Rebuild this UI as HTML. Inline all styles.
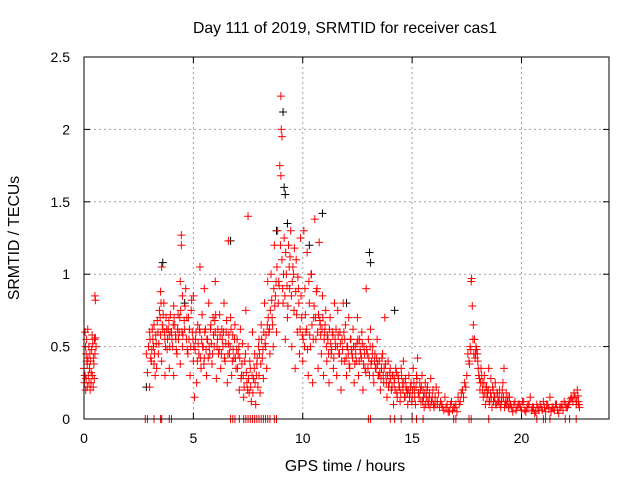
<!DOCTYPE html>
<html><head><meta charset="utf-8"><style>
body{margin:0;background:#fff}
svg{display:block;font-family:"Liberation Sans",sans-serif}
</style></head><body>
<svg id="chart" width="640" height="480" viewBox="0 0 640 480">
<text x="345" y="33" font-size="15.8" text-anchor="middle" fill="#000">Day 111 of 2019, SRMTID for receiver cas1</text>
<text transform="translate(19,238) rotate(-90)" font-size="15.8" text-anchor="middle">SRMTID / TECUs</text>
<text x="345" y="471" font-size="15.8" text-anchor="middle">GPS time / hours</text>
<g id="grid"></g>
<g id="ticks"></g>
<g id="marks"></g>
<rect x="84" y="57" width="525" height="362" fill="none" stroke="#000" stroke-width="1"/>
</svg>
<script>
const xTicks=[0,5,10,15,20];
const yTicks=[0,0.5,1,1.5,2,2.5];
const yTickLabels=["0","0.5","1","1.5","2","2.5"];
const redX=[0,0.02,0.05,0.05,0.08,0.1,0.1,0.12,0.15,0.15,0.18,0.2,0.22,0.25,0.28,0.3,0.32,0.35,0.38,0.4,0.42,0.45,0.48,0.5,0.52,0.55,0.5,0.52,
2.85,2.9,2.95,3.0,3.0,3.05,3.1,3.15,3.2,3.2,3.25,3.3,3.35,3.4,3.45,3.5,3.5,3.55,3.55,3.6,3.65,3.7,3.7,3.75,3.8,3.85,3.9,3.9,3.95,4.0,4.05,4.1,4.1,4.15,4.2,4.25,4.3,4.35,4.4,4.4,4.45,4.45,4.5,4.5,
4.6,4.65,4.7,4.75,4.8,4.85,4.9,4.95,5.0,5.0,5.05,5.1,5.15,5.2,5.25,5.3,5.3,5.35,5.4,5.45,5.5,5.5,5.55,5.6,5.65,5.7,5.75,5.8,5.85,5.9,5.95,6.0,6.0,6.05,6.1,6.15,6.2,6.25,6.3,6.35,6.4,6.45,6.5,6.55,6.6,6.6,6.65,6.7,6.75,6.8,6.85,6.9,6.95,7.0,
7.05,7.1,7.15,7.2,7.25,7.3,7.35,7.4,7.45,7.5,7.5,7.55,7.6,7.65,7.7,7.75,7.8,7.85,7.9,7.95,8.0,8.0,8.05,8.1,8.15,8.2,8.25,8.3,8.35,8.4,8.45,8.5,
8.55,8.6,8.65,8.7,8.75,8.8,8.85,8.9,8.95,9.0,9.0,9.02,9.05,9.05,9.1,9.15,9.2,9.25,9.3,9.35,9.4,9.45,9.5,9.55,9.6,9.65,9.7,9.75,9.8,9.85,9.9,9.95,10.0,
10.05,10.1,10.15,10.2,10.25,10.3,10.35,10.4,10.45,10.5,10.55,10.6,10.65,10.7,10.75,10.8,10.85,10.9,10.95,11.0,11.05,11.1,11.15,11.2,11.25,11.3,11.35,11.4,11.45,
11.5,11.55,11.6,11.65,11.7,11.75,11.8,11.85,11.9,11.95,12.0,12.05,12.1,12.15,12.2,12.25,12.3,12.35,12.4,12.45,12.5,12.55,12.6,12.65,12.7,12.75,12.8,12.85,12.9,12.95,13.0,13.05,13.1,13.15,13.2,13.25,13.3,13.35,13.4,13.45,
13.5,13.55,13.6,13.65,13.7,13.75,13.8,13.85,13.9,13.95,14.0,14.05,14.1,14.15,14.2,14.25,14.3,14.35,14.4,14.45,14.5,14.55,14.6,14.65,14.7,14.75,14.8,14.85,14.9,14.95,
15.0,15.05,15.1,15.15,15.2,15.25,15.3,15.35,15.4,15.45,15.5,15.55,15.6,15.65,15.7,15.75,15.8,15.85,15.9,15.95,16.0,16.05,16.1,16.15,16.2,16.3,16.4,16.5,16.6,16.7,16.8,16.9,17.0,17.1,17.2,17.3,17.4,17.5,
17.55,17.6,17.65,17.7,17.72,17.75,17.8,17.85,17.9,17.95,18.0,18.05,18.1,18.15,
18.2,18.25,18.3,18.35,18.4,18.45,18.5,18.55,18.6,18.65,18.7,18.75,18.8,18.85,18.9,18.95,19.0,19.05,19.1,19.15,19.2,19.25,19.3,19.35,19.4,19.45,
19.5,19.6,19.7,19.8,19.9,20.0,20.1,20.2,20.3,20.4,20.5,20.6,20.7,20.8,20.9,21.0,21.1,21.2,21.3,21.4,21.5,21.6,21.7,21.8,21.9,22.0,22.1,22.2,22.3,22.4,22.5,22.55,22.6,22.65];
const redY=[.35,.25,.6,.3,.2,.45,.28,.55,.38,.22,.42,.3,.5,.35,.2,.4,.25,.48,.3,.52,.22,.38,.55,.45,.56,.5,.85,.82,
.45,.32,.5,.22,.6,.42,.48,.55,.38,.65,.3,.52,.68,.45,.75,.88,.58,1.05,.4,.62,.8,.3,.55,.7,.48,.62,.35,.58,.72,.6,.5,.3,.78,.65,.55,.45,.72,.6,.38,.95,1.27,1.2,.85,.5,
.62,.9,.7,.45,.55,.3,.75,.6,.4,.85,.15,.55,.25,.65,.45,1.05,.6,.35,.72,.5,.9,.42,.62,.3,.55,.8,.45,.65,.38,.7,.5,.95,.6,.28,.55,.45,.72,.35,.62,.5,.8,.4,.6,.25,1.23,.52,.45,.7,.3,.58,.42,.65,.35,.55,
.45,.2,.62,.3,.52,.15,.4,.75,.25,1.4,.5,.18,.35,.12,.6,.28,.45,.1,.38,.22,.55,.3,.18,.65,.42,.28,.8,.5,.35,.95,.6,.45,
1.0,.7,.5,1.2,.85,.6,1.3,.95,1.75,2.23,1.68,2.0,1.95,1.1,.8,1.25,.55,1.0,.7,1.2,.9,1.3,.5,1.05,.75,.35,1.1,.6,.9,.45,1.25,.7,.4,
1.3,.9,.6,1.15,.3,.8,.5,1.0,.25,.7,1.38,.55,.9,.35,1.22,.65,.45,.85,.3,.6,.75,.4,.55,.25,.7,.45,.6,.35,.8,
.5,.3,.75,.45,.6,.2,.55,.8,.4,.65,.3,.5,.7,.35,.55,.45,.62,.25,.5,.4,.7,.3,.55,.45,.6,.2,.5,.35,.9,.45,.55,.3,.62,.4,.5,.25,.45,.35,.55,.3,
.4,.2,.35,.45,.25,.7,.3,.15,.4,.25,.35,.2,.3,.1,.28,.35,.18,.3,.22,.12,.35,.25,.4,.15,.28,.2,.1,.3,.18,.25,
.15,.35,.2,.1,.3,.42,.18,.25,.12,.3,.2,.08,.25,.15,.22,.1,.18,.28,.12,.2,.08,.15,.22,.1,.18,.12,.08,.15,.1,.05,.12,.08,.1,.15,.12,.2,.25,.3,
.45,.4,.5,.95,.97,.78,.65,.55,.45,.48,.4,.3,.2,.35,
.25,.15,.3,.1,.22,.18,.35,.12,.28,.08,.2,.15,.25,.1,.18,.12,.2,.08,.15,.25,.35,.1,.18,.12,.08,.15,
.1,.05,.12,.08,.1,.06,.12,.05,.1,.15,.08,.04,.1,.06,.08,.12,.05,.1,.15,.08,.06,.1,.04,.08,.06,.1,.08,.12,.15,.18,.1,.2,.12,.08];
const redX2=[0.03,0.07,0.13,0.17,0.23,0.27,0.33,0.37,0.43,0.47,
3.02,3.08,3.12,3.18,3.22,3.28,3.32,3.38,3.42,3.48,3.52,3.58,3.62,3.68,3.72,3.78,3.82,3.88,3.92,3.98,4.02,4.08,4.12,4.18,4.22,4.28,4.32,4.38,4.42,4.48,
4.52,4.58,4.62,4.68,4.72,4.78,4.82,4.88,4.92,4.98,5.02,5.08,5.12,5.18,5.22,5.28,5.32,5.38,5.42,5.48,5.52,5.58,5.62,5.68,5.72,5.78,5.82,5.88,5.92,5.98,6.02,6.08,6.12,6.18,6.22,6.28,6.32,6.38,6.42,6.48,6.52,6.58,6.62,6.68,6.72,6.78,6.82,6.88,6.92,6.98,
7.02,7.08,7.12,7.18,7.22,7.28,7.32,7.38,7.42,7.48,7.52,7.58,7.62,7.68,7.72,7.78,7.82,7.88,7.92,7.98,8.02,8.08,8.12,8.18,8.22,8.28,8.32,8.38,8.42,8.48,
8.52,8.58,8.62,8.68,8.72,8.78,8.82,8.88,8.92,8.98,9.08,9.12,9.18,9.22,9.28,9.32,9.38,9.42,9.48,9.52,9.58,9.62,9.68,9.72,9.78,9.82,9.88,9.92,9.98,
10.02,10.08,10.12,10.18,10.22,10.28,10.32,10.38,10.42,10.48,10.52,10.58,10.62,10.68,10.72,10.78,10.82,10.88,10.92,10.98,11.02,11.08,11.12,11.18,11.22,11.28,11.32,11.38,11.42,11.48,
11.52,11.58,11.62,11.68,11.72,11.78,11.82,11.88,11.92,11.98,12.02,12.08,12.12,12.18,12.22,12.28,12.32,12.38,12.42,12.48,12.52,12.58,12.62,12.68,12.72,12.78,12.82,12.88,12.92,12.98,13.02,13.08,13.12,13.18,13.22,13.28,13.32,13.38,13.42,13.48,
13.52,13.58,13.62,13.68,13.72,13.78,13.82,13.88,13.92,13.98,14.02,14.08,14.12,14.18,14.22,14.28,14.32,14.38,14.42,14.48,14.52,14.58,14.62,14.68,14.72,14.78,14.82,14.88,14.92,14.98,
15.02,15.08,15.12,15.18,15.22,15.28,15.32,15.38,15.42,15.48,15.52,15.58,15.62,15.68,15.72,15.78,15.82,15.88,15.92,15.98,16.05,16.15,16.25,16.35,16.45,16.55,16.65,16.75,16.85,16.95,17.05,17.15,17.25,17.35,17.45,
17.62,17.68,17.78,17.82,17.88,17.92,17.98,18.02,18.08,18.12,18.18,18.22,18.28,18.32,18.38,18.42,18.48,18.52,18.58,18.62,18.68,18.72,18.78,18.82,18.88,18.92,18.98,19.02,19.08,19.12,19.18,19.22,19.28,19.32,19.38,19.42,19.48,
19.55,19.65,19.75,19.85,19.95,20.05,20.15,20.25,20.35,20.45,20.55,20.65,20.75,20.85,20.95,21.05,21.15,21.25,21.35,21.45,21.55,21.65,21.75,21.85,21.95,22.05,22.15,22.25,22.35,22.45,22.52,22.58,22.62];
const redY2=[.3,.5,.4,.62,.25,.45,.32,.58,.42,.28,
.55,.4,.62,.5,.45,.58,.35,.6,.52,.7,.8,.65,.72,.6,.5,.62,.55,.68,.5,.6,.55,.65,.7,.58,.48,.62,.55,.7,.75,.6,
.58,.68,.78,.55,.48,.7,.62,.5,.82,.55,.5,.48,.6,.4,.52,.62,.42,.55,.5,.38,.6,.48,.55,.42,.5,.62,.52,.45,.58,.68,.72,.5,.62,.48,.58,.45,.55,.6,.42,.52,.68,.45,.58,.5,.62,.4,.48,.55,.42,.48,
.35,.5,.42,.28,.38,.3,.22,.45,.32,.2,.28,.4,.22,.3,.18,.35,.25,.3,.42,.5,.45,.38,.55,.48,.6,.52,.58,.65,.7,.62,
.75,.82,.65,.9,.78,.95,1.05,.8,.92,1.2,.9,1.0,.85,1.15,.92,.78,1.05,1.12,.85,.95,1.0,1.18,.88,.72,.98,.8,.62,.85,.58,
.55,.5,.72,.62,.48,.95,.58,1.0,.65,.55,.78,.7,.88,.6,.72,.68,.58,.62,.7,.55,.65,.5,.58,.45,.62,.52,.48,.58,.42,.55,
.62,.5,.58,.45,.52,.4,.48,.6,.55,.42,.5,.45,.38,.55,.48,.42,.5,.38,.45,.52,.55,.4,.48,.42,.52,.38,.45,.32,.48,.35,.42,.5,.38,.45,.3,.4,.35,.42,.38,.3,
.32,.28,.42,.3,.35,.38,.25,.3,.22,.32,.28,.22,.3,.25,.2,.32,.15,.28,.22,.18,.3,.2,.25,.15,.22,.18,.2,.15,.22,.12,
.2,.25,.15,.22,.28,.18,.15,.2,.22,.12,.15,.18,.1,.2,.12,.15,.08,.12,.15,.1,.1,.12,.08,.1,.06,.08,.05,.1,.06,.08,.05,.1,.18,.15,.22,
.38,.48,.55,.45,.42,.5,.45,.35,.28,.25,.3,.2,.25,.18,.22,.15,.2,.12,.18,.15,.22,.12,.15,.1,.18,.12,.15,.1,.12,.2,.15,.08,.12,.1,.15,.08,.1,
.08,.1,.06,.1,.08,.12,.06,.08,.1,.06,.08,.05,.08,.1,.06,.08,.1,.07,.05,.08,.1,.06,.08,.1,.12,.08,.1,.14,.12,.15,.12,.16,.1];
const zeroX=[2.8,2.9,3.2,3.5,3.55,3.9,4.0,6.7,6.8,6.9,7.1,7.3,7.4,7.5,7.6,7.7,7.8,7.9,8.0,8.1,8.2,8.3,8.4,8.5,8.7,8.8,13.0,13.1,14.0,14.2,14.5,15.0,15.2,15.5,16.9,17.0,17.6,17.7,18.5,20.7,21.0,21.1,21.3,22.0,22.2,22.5];
const blackX=[9.1,9.15,9.2,10.9,13.05,13.1,14.2,3.6,6.7,12.0,8.8,4.6,2.85,9.3,10.3];
const blackY=[2.12,1.6,1.55,1.42,1.15,1.08,.75,1.08,1.23,.8,1.3,.8,.22,1.35,1.2];

const X0=84,X1=609,Y0=419,Y1=57;
const xs=h=>X0+(h/24)*(X1-X0);
const ys=v=>Y0-(v/2.5)*(Y0-Y1);
const NS="http://www.w3.org/2000/svg";
const grid=document.getElementById('grid'),ticks=document.getElementById('ticks'),marks=document.getElementById('marks');
function mk(tag,attrs,parent){const e=document.createElementNS(NS,tag);for(const k in attrs)e.setAttribute(k,attrs[k]);parent.appendChild(e);return e;}
xTicks.forEach(t=>{
  const x=xs(t);
  if(t>0){const g=mk('line',{x1:x,x2:x,y1:Y0,y2:Y1,stroke:'#a0a0a0','stroke-dasharray':'2,3'},grid);
  
  }
  mk('line',{x1:x,x2:x,y1:Y0,y2:Y0-6,stroke:'#000'},ticks);
  mk('line',{x1:x,x2:x,y1:Y1,y2:Y1+6,stroke:'#000'},ticks);
  const l=mk('text',{x:x,y:Y0+24,'font-size':14,'text-anchor':'middle',fill:'#000'},ticks);
  l.textContent=t;
  
  
});
yTicks.forEach((t,i)=>{
  const y=ys(t);
  if(t>0&&t<2.5){const g=mk('line',{x1:X0,x2:X1,y1:y,y2:y,stroke:'#a0a0a0','stroke-dasharray':'2,3'},grid);
  
  }
  mk('line',{x1:X0,x2:X0+6,y1:y,y2:y,stroke:'#000'},ticks);
  mk('line',{x1:X1,x2:X1-6,y1:y,y2:y,stroke:'#000'},ticks);
  const l=mk('text',{x:X0-14,y:y+5,'font-size':14,'text-anchor':'end',fill:'#000'},ticks);
  l.textContent=yTickLabels[i];
  
  
});
function plus(h,v,color,name){
  const x=xs(h),y=ys(v);
  const p=mk('path',{d:`M${x-4},${y}H${x+4}M${x},${y-4}V${y+4}`,stroke:color,'stroke-width':1,fill:'none'},marks);
  
  
}
blackX.forEach((h,i)=>plus(h,blackY[i],'#000','black-point'));
redX.forEach((h,i)=>plus(h,redY[i],'#ff0000','red-point'));
redX2.forEach((h,i)=>plus(h,redY2[i],'#ff0000','red-point'));
zeroX.forEach(h=>plus(h,0,'#ff0000','zero-point'));
</script>
</body></html>
